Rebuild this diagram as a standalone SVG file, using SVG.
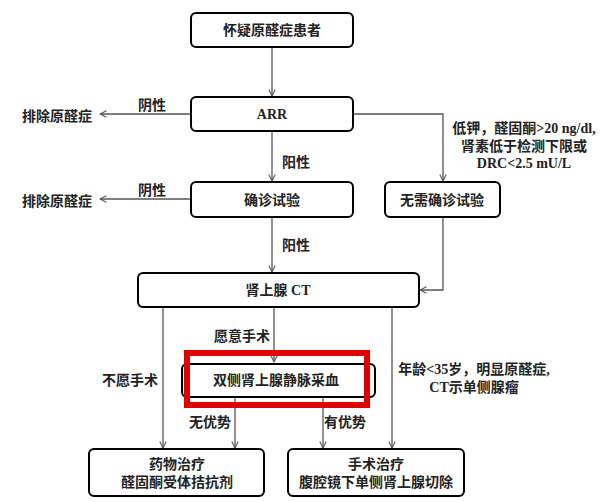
<svg xmlns="http://www.w3.org/2000/svg" width="600" height="502" viewBox="0 0 600 502">
<defs>
<marker id="a" viewBox="0 0 10 10" refX="9" refY="5" markerWidth="8" markerHeight="8" orient="auto" markerUnits="userSpaceOnUse"><path d="M1,1 L9,5 L1,9" fill="none" stroke="#555" stroke-width="1.3"/></marker>
<style>
.b{fill:#fff;stroke:#000;stroke-width:2}
.t{font-family:"Liberation Serif","Noto Sans CJK SC",serif;font-size:14px;font-weight:bold;fill:#222;text-anchor:middle}
.l{fill:none;stroke:#555;stroke-width:1.3;marker-end:url(#a)}
</style>
</defs>
<rect width="600" height="502" fill="#fff"/>
<g id="connectors">
<path class="l" d="M272,47 V96"/>
<path class="l" d="M191,114 H100"/>
<path class="l" d="M272,131 V181"/>
<path class="l" d="M353,114 H443 V181"/>
<path class="l" d="M191,199 H100"/>
<path class="l" d="M272,217 V272"/>
<path class="l" d="M443,217 V290 H420"/>
<path class="l" d="M163,307 V448"/>
<path class="l" d="M274,307 V362"/>
<path class="l" d="M392,307 V448"/>
<path class="l" d="M235,397 V448"/>
<path class="l" d="M323,397 V448"/>
</g>
<g id="n1"><rect class="b" x="191" y="13" width="162" height="34" rx="5"/><text class="t" x="272" y="35">怀疑原醛症患者</text></g>
<g id="n2"><rect class="b" x="191" y="97" width="162" height="34" rx="5"/><text class="t" x="272" y="119">ARR</text></g>
<g id="n3"><rect class="b" x="191" y="182" width="162" height="35" rx="5"/><text class="t" x="272" y="205">确诊试验</text></g>
<g id="n4"><rect class="b" x="385" y="182" width="115" height="35" rx="5"/><text class="t" x="442" y="205">无需确诊试验</text></g>
<g id="n5"><rect class="b" x="138" y="273" width="281" height="34" rx="5"/><text class="t" x="278" y="295">肾上腺 CT</text></g>
<g id="n6"><rect class="b" x="182" y="364" width="193" height="33" rx="5"/><text class="t" x="276" y="385">双侧肾上腺静脉采血</text></g>
<g id="n7"><rect class="b" x="89" y="449" width="175" height="47" rx="5"/><text class="t" x="177" y="469">药物治疗</text><text class="t" x="177" y="487">醛固酮受体拮抗剂</text></g>
<g id="n8"><rect class="b" x="288" y="449" width="176" height="47" rx="5"/><text class="t" x="376" y="469">手术治疗</text><text class="t" x="376" y="487">腹腔镜下单侧肾上腺切除</text></g>
<rect x="187" y="353" width="180" height="52" fill="none" stroke="#e00000" stroke-width="6"/>
<g id="labels">
<text class="t" x="57" y="121">排除原醛症</text>
<text class="t" x="57" y="206">排除原醛症</text>
<text class="t" x="152" y="110">阴性</text>
<text class="t" x="152" y="195">阴性</text>
<text class="t" x="296" y="167">阳性</text>
<text class="t" x="296" y="250">阳性</text>
<text class="t" x="524" y="133">低钾，醛固酮&gt;20 ng/dl,</text>
<text class="t" x="524" y="151">肾素低于检测下限或</text>
<text class="t" x="524" y="168">DRC&lt;2.5 mU/L</text>
<text class="t" x="242" y="341">愿意手术</text>
<text class="t" x="130" y="385">不愿手术</text>
<text class="t" x="474" y="374">年龄&lt;35岁，明显原醛症,</text>
<text class="t" x="474" y="392">CT示单侧腺瘤</text>
<text class="t" x="210" y="427">无优势</text>
<text class="t" x="345" y="427">有优势</text>
</g>
</svg>
